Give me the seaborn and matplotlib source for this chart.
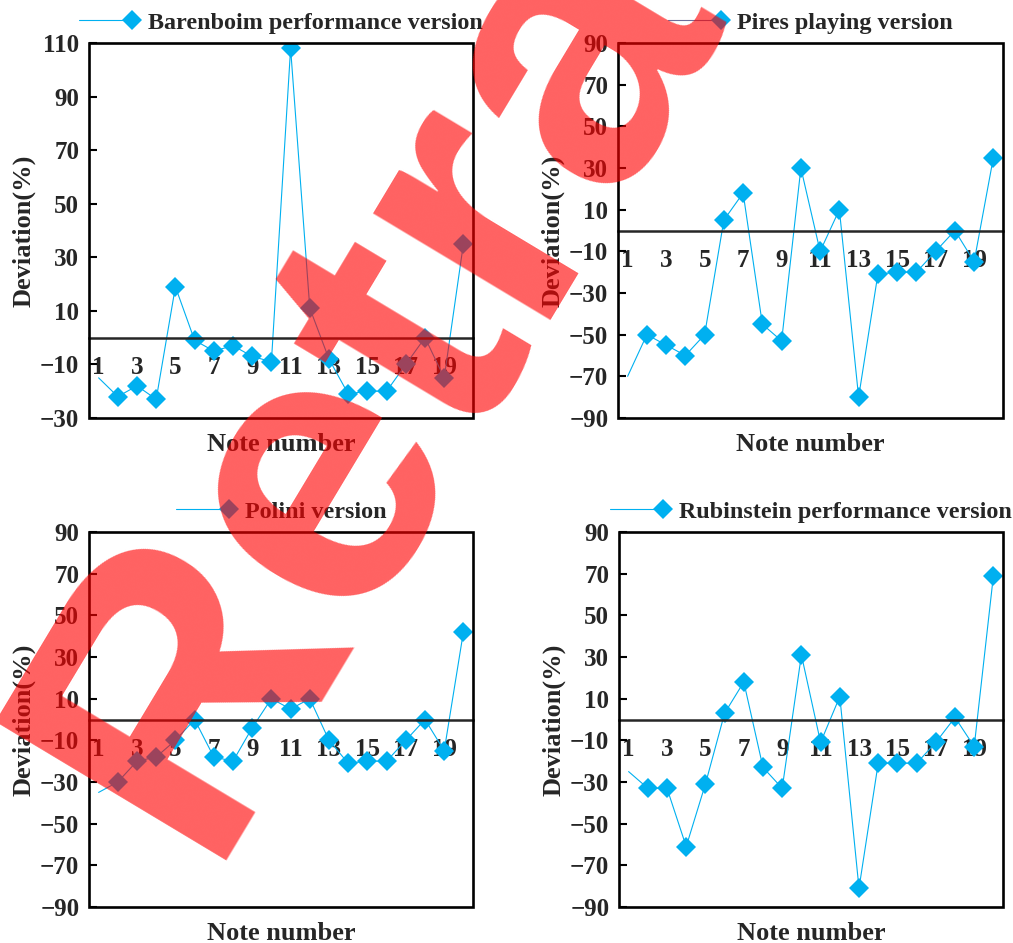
import numpy as np
import pandas as pd
import matplotlib
matplotlib.use("Agg")
import matplotlib.pyplot as plt
import seaborn as sns
from matplotlib.legend_handler import HandlerLine2DCompound
from matplotlib.patches import Rectangle

# ── data ──────────────────────────────────────────────────────────────────────
notes = list(range(1, 21))

barenboim = [-15, -22, -18, -23, 19, -1, -5, -3, -7, -9,
             108, 11, -8, -21, -20, -20, -10, 0, -15, 35]
pires = [-70, -50, -55, -60, -50, 5, 18, -45, -53, 30,
         -10, 10, -80, -21, -20, -20, -10, 0, -15, 35]
polini = [-35, -30, -20, -18, -10, 0, -18, -20, -4, 10,
          5, 10, -10, -21, -20, -20, -10, 0, -15, 42]
rubinstein = [-25, -33, -33, -61, -31, 3, 18, -23, -33, 31,
              -11, 11, -81, -21, -21, -21, -11, 1, -13, 69]

series = [barenboim, pires, polini, rubinstein]
names = ["Barenboim performance version", "Pires playing version",
         "Polini version", "Rubinstein performance version"]
y_ranges = [(-30, 110), (-90, 90), (-90, 90), (-90, 90)]
x_ticklabels = [str(n) for n in range(1, 20, 2)]

# ── style ─────────────────────────────────────────────────────────────────────
sns.set_style("white")
plt.rcParams["font.family"] = ["Liberation Serif", "DejaVu Serif"]
plt.rcParams["font.weight"] = "bold"
plt.rcParams["axes.labelweight"] = "bold"

BLUE = "#00B0F0"
# the Pires legend sample is drawn with a muted line in the original
legend_line_colors = [BLUE, "#6F6F9C", BLUE, BLUE]
W, H = 1013, 943

# axes boxes in pixels: left, top, right, bottom
boxes = [(89, 43, 473, 418), (618, 43, 1003, 418),
         (89, 532, 473, 907), (619, 532, 1003, 907)]


class EndMarkerHandler(HandlerLine2DCompound):
    """Legend sample with the marker sitting at the right end of the line."""

    def __init__(self, line_color, **kw):
        super().__init__(**kw)
        self.line_color = line_color

    def get_xdata(self, legend, xdescent, ydescent, width, height, fontsize):
        xdata = np.array([-xdescent, -xdescent + width])
        return xdata, np.array([-xdescent + width])

    def create_artists(self, legend, orig_handle, xdescent, ydescent,
                       width, height, fontsize, trans):
        legline, legmarker = super().create_artists(
            legend, orig_handle, xdescent, ydescent, width, height,
            fontsize, trans)
        legline.set_color(self.line_color)
        return [legline, legmarker]


fig = plt.figure(figsize=(W / 100, H / 100), dpi=100)

for vals, name, (lo, hi), (l, t, r, b), lcol in zip(
        series, names, y_ranges, boxes, legend_line_colors):
    ax = fig.add_axes([l / W, 1 - b / H, (r - l) / W, (b - t) / H])
    df = pd.DataFrame({"note": notes, "deviation": vals})
    sns.lineplot(data=df, x="note", y="deviation", ax=ax, color=BLUE,
                 linewidth=0.8, marker="D", markersize=10,
                 markeredgewidth=0, markevery=list(range(1, len(notes))),
                 errorbar=None)
    line = ax.lines[0]

    ax.set_xlim(0.5, 20.5)
    ax.set_ylim(lo, hi)

    # frame + x axis crossing at zero
    for side in ("left", "top", "right"):
        ax.spines[side].set_visible(False)
    ax.spines["bottom"].set_position(("data", 0))
    ax.spines["bottom"].set_linewidth(1.8)
    ax.add_patch(Rectangle((0, 0), 1, 1, transform=ax.transAxes, fill=False,
                           edgecolor="black", linewidth=1.9, clip_on=False,
                           zorder=5))

    ax.set_xticks(range(1, 20, 2))
    ax.set_xticklabels(x_ticklabels)
    ax.set_xticks(np.arange(1.5, 20, 1), minor=True)
    ax.tick_params(axis="x", which="major", length=0, pad=13, labelsize=18)
    ax.tick_params(axis="x", which="minor", direction="in", length=6,
                   width=1.5, color="black")
    ax.set_yticks(np.arange(lo, hi + 1, 20))
    ax.tick_params(axis="y", which="major", direction="in", length=6,
                   width=1.5, pad=7, labelsize=18, left=True, color="black")

    ax.set_xlabel("Note number", fontsize=19)
    ax.set_ylabel("Deviation(%)", fontsize=19)
    ax.xaxis.set_label_coords(0.5, -0.04)
    ax.yaxis.set_label_coords(-0.14, 0.5)

    ax.legend(handles=[line], labels=[name],
              handler_map={line: EndMarkerHandler(lcol)},
              loc="lower center", bbox_to_anchor=(0.5, 1.025),
              frameon=False, fontsize=17.4, handlelength=2.2,
              handletextpad=0.65, borderpad=0, borderaxespad=0)

# retraction watermark laid over the figure
fig.text(200 / W, 1 - 860 / H, "Retracted", rotation=59,
         rotation_mode="anchor", ha="left", va="baseline", fontsize=282,
         color="red", alpha=0.62, family="Liberation Sans", weight="bold",
         zorder=10)

fig.savefig("out.png", dpi=100)
